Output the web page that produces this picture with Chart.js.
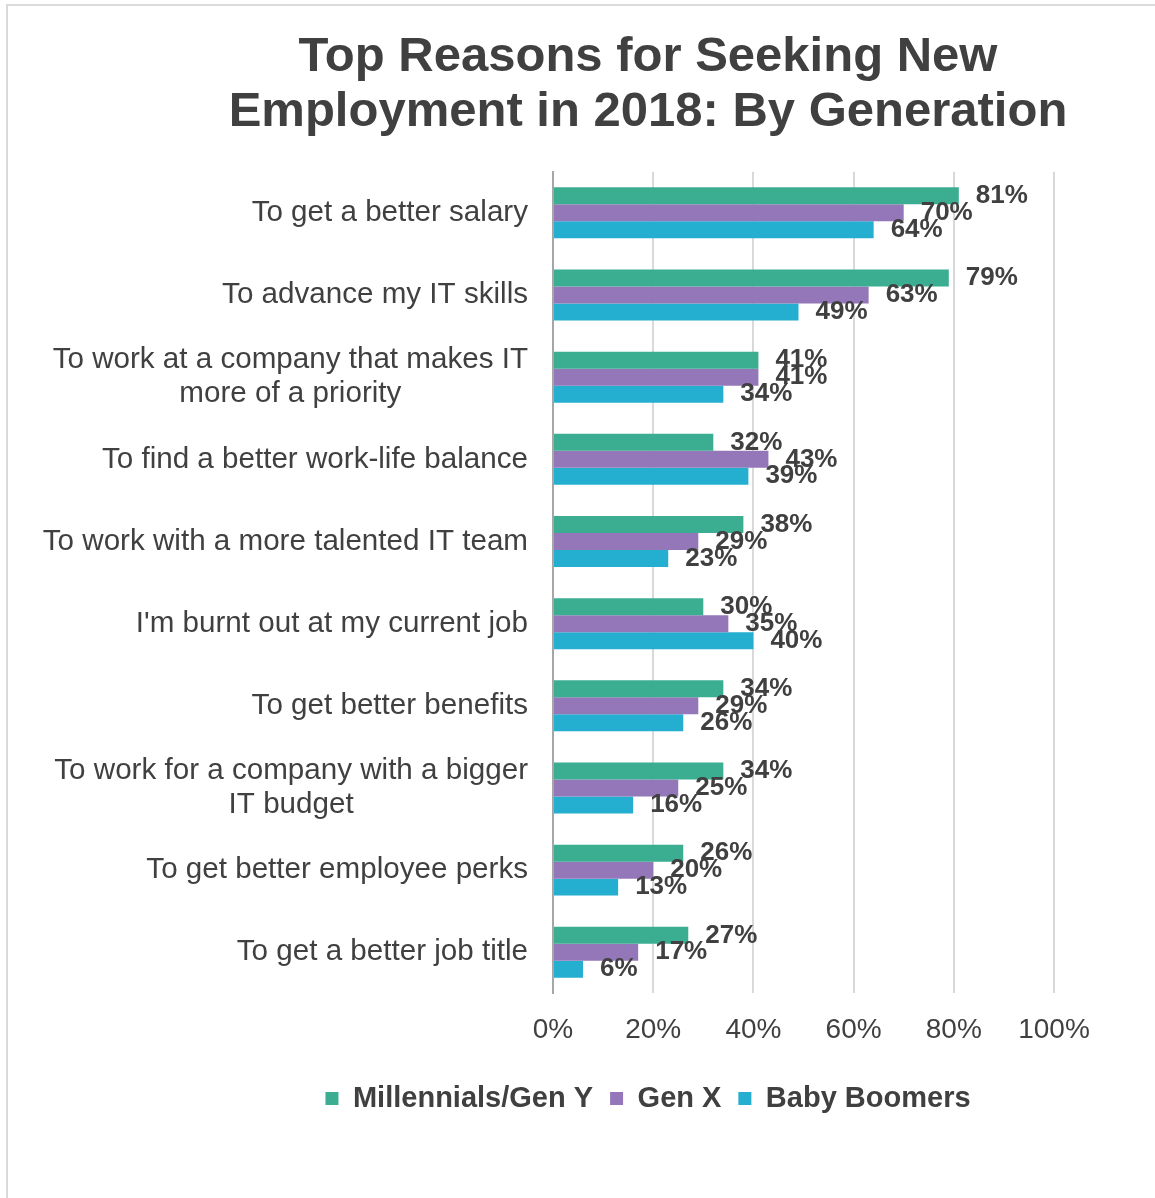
<!DOCTYPE html>
<html>
<head>
<meta charset="utf-8">
<title>Top Reasons for Seeking New Employment in 2018: By Generation</title>
<script src="https://cdn.jsdelivr.net/npm/chart.js@4.4.0/dist/chart.umd.min.js"></script>
<style>
    html, body { margin: 0; padding: 0; background: #fff; overflow: hidden; }
    .frame {
        position: absolute; left: 6px; top: 4px;
        width: 1147px; height: 1192px;
        border-top: 2px solid #dadada; border-left: 2px solid #dadada;
        overflow: hidden;
    }
    .chart-box { position: relative; width: 1280px; height: 1192px; }
</style>
</head>
<body>
<div class="frame">
    <div class="chart-box"><canvas id="reasonsChart"></canvas></div>
</div>
<script>
// Chart data
const categories = [
    ['To get a better salary'],
    ['To advance my IT skills'],
    ['To work at a company that makes IT', 'more of a priority'],
    ['To find a better work-life balance'],
    ['To work with a more talented IT team'],
    ["I'm burnt out at my current job"],
    ['To get better benefits'],
    ['To work for a company with a bigger', 'IT budget'],
    ['To get better employee perks'],
    ['To get a better job title']
];
const seriesNames = ['Millennials/Gen Y', 'Gen X', 'Baby Boomers'];
const millennials = [81, 79, 41, 32, 38, 30, 34, 34, 26, 27];
const genX = [70, 63, 41, 43, 29, 35, 29, 25, 20, 17];
const boomers = [64, 49, 34, 39, 23, 40, 26, 16, 13, 6];
const xTicks = [0, 20, 40, 60, 80, 100];

const TEXT = '#404040';
Chart.defaults.font.family = "'Liberation Sans', Arial, sans-serif";
Chart.defaults.color = TEXT;

// category labels: right aligned block, lines centred inside the block
const categoryLabels = {
    id: 'categoryLabels',
    afterDraw(chart) {
        const ctx = chart.ctx;
        const yScale = chart.scales.y;
        const right = chart.chartArea.left - 25;
        const lineH = 34;
        ctx.save();
        ctx.font = "29.6px 'Liberation Sans', Arial, sans-serif";
        ctx.fillStyle = TEXT;
        ctx.textAlign = 'center';
        ctx.textBaseline = 'middle';
        categories.forEach((lines, i) => {
            const y = yScale.getPixelForValue(i);
            const w = Math.max(...lines.map(l => ctx.measureText(l).width));
            const cx = right - w / 2;
            const y0 = y - (lines.length - 1) * lineH / 2;
            lines.forEach((l, k) => ctx.fillText(l, cx, y0 + k * lineH));
        });
        ctx.restore();
    }
};

// value labels just past the end of each bar
const valueLabels = {
    id: 'valueLabels',
    afterDatasetsDraw(chart) {
        const ctx = chart.ctx;
        ctx.save();
        ctx.font = "bold 26px 'Liberation Sans', Arial, sans-serif";
        ctx.fillStyle = TEXT;
        ctx.textAlign = 'left';
        ctx.textBaseline = 'middle';
        chart.data.datasets.forEach((ds, di) => {
            chart.getDatasetMeta(di).data.forEach((bar, i) => {
                ctx.fillText(ds.data[i] + '%', bar.x + 17, bar.y);
            });
        });
        ctx.restore();
    }
};

new Chart(document.getElementById('reasonsChart'), {
    type: 'bar',
    data: {
        labels: categories,
        datasets: [
            { label: seriesNames[0], data: millennials, backgroundColor: '#3bae92' },
            { label: seriesNames[1], data: genX, backgroundColor: '#9477b8' },
            { label: seriesNames[2], data: boomers, backgroundColor: '#24aecf' }
        ]
    },
    options: {
        indexAxis: 'y',
        responsive: true,
        maintainAspectRatio: false,
        animation: false,
        datasets: {
            bar: { categoryPercentage: 0.62, barPercentage: 1.0 }
        },
        layout: { padding: { top: 24, bottom: 75, left: 0, right: 0 } },
        plugins: {
            title: {
                display: true,
                text: ['Top Reasons for Seeking New', 'Employment in 2018: By Generation'],
                color: TEXT,
                font: { size: 49, weight: 'bold', lineHeight: 1.12 },
                padding: { top: 0, bottom: 32 }
            },
            legend: {
                position: 'bottom',
                labels: {
                    color: TEXT,
                    font: { size: 29, weight: 'bold' },
                    boxWidth: 13,
                    boxHeight: 13,
                    padding: 17
                }
            },
            tooltip: { enabled: false }
        },
        scales: {
            x: {
                min: xTicks[0],
                max: xTicks[xTicks.length - 1],
                afterBuildTicks: scale => { scale.ticks = xTicks.map(v => ({ value: v })); },
                ticks: {
                    callback: v => v + '%',
                    color: TEXT,
                    font: { size: 28 },
                    padding: 20,
                    maxRotation: 0
                },
                grid: { color: '#d9d9d9', lineWidth: 2, drawTicks: false },
                border: { display: false }
            },
            y: {
                ticks: { display: false },
                grid: { display: false },
                border: { color: '#a6a6a6', width: 2 },
                afterFit: scale => { scale.width = 545; }
            },
            // empty spacer on the right so the plot ends where the original does
            y2: {
                type: 'linear',
                position: 'right',
                ticks: { display: false },
                grid: { display: false },
                border: { display: false },
                afterFit: scale => { scale.width = 234; }
            }
        }
    },
    plugins: [categoryLabels, valueLabels]
});
</script>
</body>
</html>
